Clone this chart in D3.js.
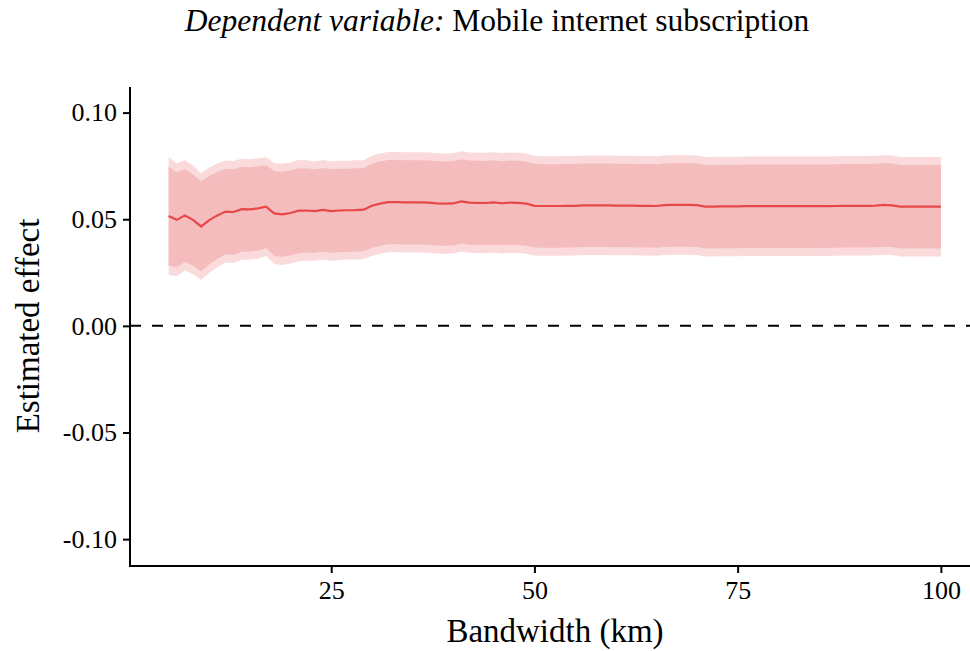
<!DOCTYPE html>
<html>
<head>
<meta charset="utf-8">
<script src="https://cdn.jsdelivr.net/npm/d3@7"></script>
<style>
  body { margin: 0; background: #fff; }
  svg { display: block; font-family: 'Liberation Serif', 'DejaVu Serif', serif; }
  .tick text { font-family: 'Liberation Serif', 'DejaVu Serif', serif; }
</style>
</head>
<body>
<script>
var width = 970
var height = 651

// bandwidth (km)
var bandwidth = [5, 6, 7, 8, 9, 10, 11, 12, 13, 14, 15, 16, 17, 18, 19, 20,
    21, 22, 23, 24, 25, 26, 27, 28, 29, 30, 31, 32, 33, 34, 35, 36, 37, 38, 39, 40,
    41, 42, 43, 44, 45, 46, 47, 48, 49, 50, 51, 52, 53, 54, 55, 56, 57, 58, 59, 60,
    61, 62, 63, 64, 65, 66, 67, 68, 69, 70, 71, 72, 73, 74, 75, 76, 77, 78, 79, 80,
    81, 82, 83, 84, 85, 86, 87, 88, 89, 90, 91, 92, 93, 94, 95, 96, 97, 98, 99, 100]

// point estimates
var estimate = [0.0515, 0.0497, 0.0518, 0.0497, 0.0466, 0.0496, 0.0518, 0.0536, 0.0534, 0.0547, 0.0546, 0.0551,
    0.0559, 0.0527, 0.0523, 0.0529, 0.0540, 0.0541, 0.0538, 0.0544, 0.0538, 0.0541, 0.0542, 0.0543,
    0.0545, 0.0563, 0.0573, 0.0580, 0.0580, 0.0579, 0.0579, 0.0579, 0.0578, 0.0574, 0.0573, 0.0574,
    0.0584, 0.0578, 0.0577, 0.0576, 0.0579, 0.0575, 0.0578, 0.0577, 0.0573, 0.0563, 0.0562, 0.0562,
    0.0562, 0.0563, 0.0563, 0.0565, 0.0565, 0.0565, 0.0565, 0.0564, 0.0564, 0.0564, 0.0563, 0.0563,
    0.0562, 0.0566, 0.0567, 0.0567, 0.0567, 0.0566, 0.0559, 0.0559, 0.0560, 0.0560, 0.0560, 0.0561,
    0.0561, 0.0561, 0.0561, 0.0561, 0.0561, 0.0561, 0.0561, 0.0561, 0.0561, 0.0561, 0.0562, 0.0563,
    0.0563, 0.0563, 0.0563, 0.0564, 0.0567, 0.0565, 0.0559, 0.0559, 0.0559, 0.0559, 0.0559, 0.0559]

// standard errors
var stdError = [0.0141, 0.0135, 0.0132, 0.0130, 0.0128, 0.0126, 0.0124, 0.0122, 0.0122, 0.0121, 0.0120, 0.0120,
    0.0118, 0.0121, 0.0121, 0.0121, 0.0121, 0.0120, 0.0119, 0.0119, 0.0119, 0.0119, 0.0118, 0.0119,
    0.0118, 0.0120, 0.0120, 0.0120, 0.0120, 0.0120, 0.0120, 0.0120, 0.0120, 0.0120, 0.0120, 0.0120,
    0.0120, 0.0120, 0.0120, 0.0120, 0.0120, 0.0120, 0.0120, 0.0120, 0.0120, 0.0119, 0.0119, 0.0119,
    0.0119, 0.0119, 0.0119, 0.0119, 0.0119, 0.0119, 0.0119, 0.0119, 0.0119, 0.0119, 0.0119, 0.0119,
    0.0119, 0.0119, 0.0119, 0.0119, 0.0119, 0.0119, 0.0119, 0.0119, 0.0119, 0.0119, 0.0119, 0.0119,
    0.0119, 0.0119, 0.0119, 0.0119, 0.0119, 0.0119, 0.0119, 0.0119, 0.0119, 0.0119, 0.0119, 0.0119,
    0.0119, 0.0119, 0.0119, 0.0119, 0.0119, 0.0119, 0.0119, 0.0119, 0.0119, 0.0119, 0.0119, 0.0119]

var xTicks = [25, 50, 75, 100]
var yTicks = [0.10, 0.05, 0.00, -0.05, -0.10]

var data = bandwidth.map(function(b, i) {
    return { x: b, est: estimate[i], se: stdError[i] }
})

var x = d3.scaleLinear()
    .domain([0.25, 104.75])
    .range([130, 979.5])

var y = d3.scaleLinear()
    .domain([-0.1126, 0.112])
    .range([566, 87])

var svg = d3.select('body').append('svg')
    .attr('width', width)
    .attr('height', height)

// 95% and 90% intervals
var band95 = d3.area()
    .x(function(d) { return x(d.x) })
    .y0(function(d) { return y(d.est - 1.96 * d.se) })
    .y1(function(d) { return y(d.est + 1.96 * d.se) })

var band90 = d3.area()
    .x(function(d) { return x(d.x) })
    .y0(function(d) { return y(d.est - 1.645 * d.se) })
    .y1(function(d) { return y(d.est + 1.645 * d.se) })

var line = d3.line()
    .x(function(d) { return x(d.x) })
    .y(function(d) { return y(d.est) })

svg.append('path')
    .datum(data)
    .attr('d', band95)
    .style('fill', '#fadadb')

svg.append('path')
    .datum(data)
    .attr('d', band90)
    .style('fill', '#f5bcbd')

svg.append('line')
    .attr('x1', x(0.25))
    .attr('x2', width)
    .attr('y1', y(0))
    .attr('y2', y(0))
    .style('stroke', '#000')
    .style('stroke-width', 2)
    .style('stroke-dasharray', '11,11')

svg.append('path')
    .datum(data)
    .attr('d', line)
    .style('fill', 'none')
    .style('stroke', '#e8474a')
    .style('stroke-width', 2.2)

// axes
var yFormat = function(d) { return d3.format('.2f')(d).replace('\u2212', '-') }

var xAxis = svg.append('g')
    .attr('transform', 'translate(0,566)')
    .call(d3.axisBottom(x).tickValues(xTicks).tickSize(7).tickPadding(8)
        .tickFormat(d3.format('d')))

var yAxis = svg.append('g')
    .attr('transform', 'translate(130,0)')
    .call(d3.axisLeft(y).tickValues(yTicks).tickSize(7).tickPadding(6)
        .tickFormat(yFormat))

svg.selectAll('g')
    .attr('font-family', "'Liberation Serif', serif")
    .attr('font-size', 26)

svg.selectAll('.domain')
    .style('stroke', '#000')
    .style('stroke-width', 2)
xAxis.select('.domain').attr('d', 'M129,0H970')
yAxis.select('.domain').attr('d', 'M0,' + y.range()[1] + 'V' + (y.range()[0] + 1))

svg.selectAll('.tick line')
    .style('stroke', '#000')
    .style('stroke-width', 2)

svg.selectAll('.tick text')
    .style('fill', '#000')

// labels
svg.append('text')
    .attr('x', 555)
    .attr('y', 642)
    .attr('text-anchor', 'middle')
    .style('font-size', '33px')
    .text('Bandwidth (km)')

svg.append('text')
    .attr('transform', 'translate(39,326) rotate(-90)')
    .attr('text-anchor', 'middle')
    .style('font-size', '33px')
    .text('Estimated effect')

var title = svg.append('text')
    .attr('x', 497)
    .attr('y', 31)
    .attr('text-anchor', 'middle')
    .style('font-size', '31.5px')

title.append('tspan')
    .style('font-style', 'italic')
    .text('Dependent variable:')

title.append('tspan')
    .text(' Mobile internet subscription')
</script>
</body>
</html>
